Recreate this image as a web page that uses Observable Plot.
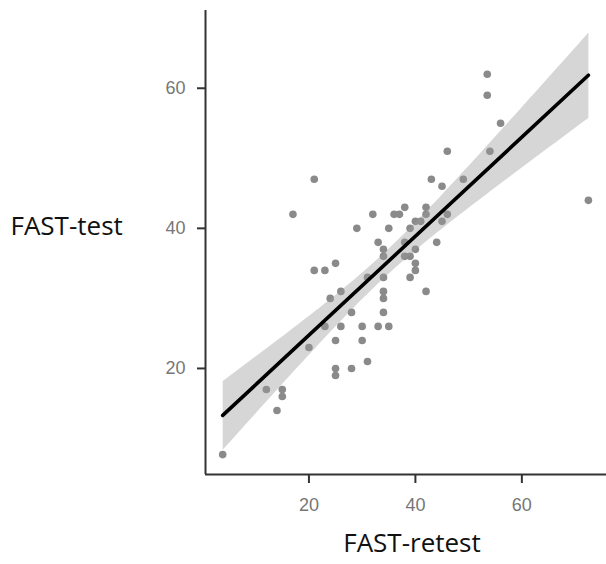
<!DOCTYPE html>
<html>
<head>
<meta charset="utf-8">
<script src="https://cdn.jsdelivr.net/npm/d3@7"></script>
<script src="https://cdn.jsdelivr.net/npm/@observablehq/plot@0.6"></script>
<style>
  html, body { margin: 0; padding: 0; background: #fff; }
  #chart svg { display: block; }
</style>
</head>
<body>
<div id="chart"></div>
<script>
// FAST-retest (x) vs FAST-test (y)
const retest = [3.8, 12, 15, 15, 14, 20, 21, 23, 25, 17, 21, 23, 24, 26, 26, 28, 25, 25, 25, 28, 31, 30, 30, 33, 35, 29, 31, 32, 33, 34, 34, 34, 34, 34, 34, 35, 36, 37, 38, 38, 38, 39, 39, 39, 40, 41, 40, 40, 40, 42, 42, 42, 44, 45, 46, 43, 45, 49, 46, 54, 56, 53.5, 53.5, 72.5];
const test   = [7.7, 17, 17, 16, 14, 23, 34, 34, 35, 42, 47, 26, 30, 31, 26, 28, 24, 20, 19, 20, 21, 24, 26, 26, 26, 40, 33, 42, 38, 37, 36, 33, 31, 30, 28, 40, 42, 42, 43, 38, 36, 36, 40, 33, 41, 41, 37, 35, 34, 43, 42, 31, 38, 41, 42, 47, 46, 47, 51, 51, 55, 59, 62, 44];
const xTicks = [20, 40, 60];
const yTicks = [20, 40, 60];
const xDomain = [0.57, 75.9];
const yDomain = [4.86, 71.1];
const xTitle = "FAST-retest";
const yTitle = "FAST-test";

const data = retest.map((x, i) => ({x, y: test[i]}));

const chart = Plot.plot({
  width: 606,
  height: 564,
  marginLeft: 205,
  marginRight: 0,
  marginTop: 10,
  marginBottom: 90,
  style: {fontFamily: "'Liberation Sans', Arial, sans-serif", background: "#fff"},
  x: {domain: xDomain, ticks: xTicks},
  y: {domain: yDomain, ticks: yTicks},
  marks: [
    Plot.dot(data, {x: "x", y: "y", r: 3.8, fill: "#8a8a8a", stroke: "none"}),
    Plot.linearRegressionY(data, {x: "x", y: "y", stroke: "#000", strokeWidth: 3.6, fill: "#999", fillOpacity: 0.4, ci: 0.95}),
    Plot.ruleX([xDomain[0]], {stroke: "#333", strokeWidth: 2}),
    Plot.ruleY([yDomain[0]], {stroke: "#333", strokeWidth: 2}),
    Plot.axisX(xTicks, {tickSize: 9, tickPadding: 15, fontSize: 18, stroke: "#333", strokeWidth: 2, fill: "#777", label: null}),
    Plot.axisY(yTicks, {tickSize: 8, tickPadding: 12, fontSize: 18, stroke: "#333", strokeWidth: 2, fill: "#777", label: null}),
    Plot.text([yTitle], {frameAnchor: "left", dx: -195, dy: -16, textAnchor: "start", fontSize: 26, fill: "#111", fontFamily: "'Open Sans', sans-serif"}),
    Plot.text([xTitle], {frameAnchor: "bottom", dx: 6, dy: 77, fontSize: 26, fill: "#111", fontFamily: "'Open Sans', sans-serif"})
  ]
});
document.getElementById("chart").appendChild(chart);
</script>
</body>
</html>
